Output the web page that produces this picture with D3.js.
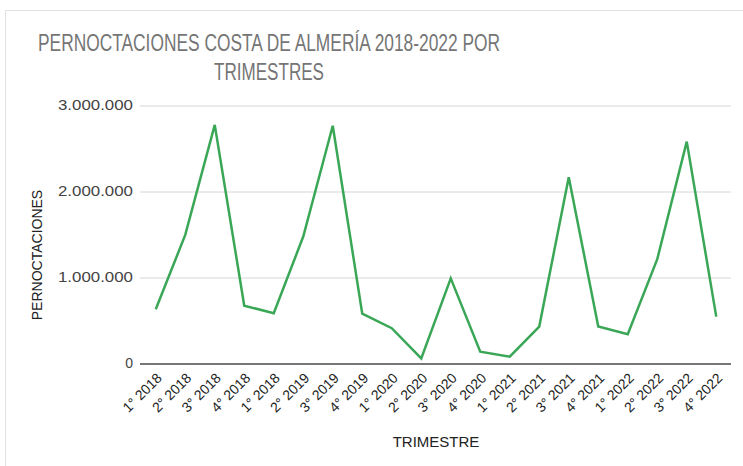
<!DOCTYPE html>
<html>
<head>
<meta charset="utf-8">
<script src="https://cdn.jsdelivr.net/npm/d3@7/dist/d3.min.js"></script>
<style>
  body { margin: 0; background: #fff; }
  text { font-family: "Liberation Sans", Arial, sans-serif; }
</style>
</head>
<body>
<script>
// trimestres (labels as in the original, incl. the repeated "1° 2018")
var quarters = ["1° 2018", "2° 2018", "3° 2018", "4° 2018", "1° 2018", "2° 2019", "3° 2019", "4° 2019",
    "1° 2020", "2° 2020", "3° 2020", "4° 2020", "1° 2021", "2° 2021", "3° 2021", "4° 2021",
    "1° 2022", "2° 2022", "3° 2022", "4° 2022"];
var pernoctaciones = [630000, 1495000, 2775000, 673000, 584000, 1476000, 2764000, 580000,
    410000, 60000, 990000, 137000, 80000, 430000, 2167000, 430000,
    340000, 1213000, 2580000, 545000];
var yTicks = [0, 1000000, 2000000, 3000000];
var titleLines = ["PERNOCTACIONES COSTA DE ALMERÍA 2018-2022 POR", "TRIMESTRES"];

var width = 743, height = 466;
var margin = { top: 105.5, right: 12, bottom: 102.5, left: 141 };

var svg = d3.select("body")
    .append("svg")
    .attr("width", width)
    .attr("height", height);

// chart frame
svg.append("rect")
    .attr("x", 5.5).attr("y", 10.5)
    .attr("width", width + 20).attr("height", height + 20)
    .attr("fill", "#fff")
    .attr("stroke", "#e2e2e2");

var x = d3.scalePoint()
    .domain(quarters.map(function (d, i) { return i; }))
    .range([margin.left, width - margin.right])
    .padding(0.5);

var y = d3.scaleLinear()
    .domain([0, 3000000])
    .range([height - margin.bottom, margin.top]);

var fmt = function (v) { return d3.format(",")(v).replace(/,/g, "."); };

// title
svg.append("g").selectAll("text")
    .data(titleLines)
    .enter().append("text")
    .attr("x", 269)
    .attr("y", function (d, i) { return 51 + i * 29; })
    .attr("text-anchor", "middle")
    .attr("textLength", function (d, i) { return i == 0 ? 462 : 110; })
    .attr("lengthAdjust", "spacingAndGlyphs")
    .style("font-size", "23px")
    .style("fill", "#757575")
    .text(function (d) { return d; });

// grid + y labels
var yAxis = svg.append("g")
    .attr("class", "y-axis")
    .attr("transform", "translate(" + margin.left + ",0)")
    .call(d3.axisLeft(y)
        .tickValues(yTicks)
        .tickSize(-(width - margin.left - margin.right))
        .tickPadding(8)
        .tickFormat(fmt));
yAxis.select(".domain").remove();
yAxis.selectAll(".tick line")
    .attr("stroke", function (d) { return d == 0 ? "#777" : "#d6d6d6"; })
    .attr("stroke-width", function (d) { return d == 0 ? 2 : 1; })
    .attr("x1", -1);
yAxis.selectAll(".tick text")
    .attr("textLength", function (d) { return d == 0 ? null : 75; })
    .attr("lengthAdjust", "spacingAndGlyphs")
    .style("font-size", "14px")
    .style("fill", "#444");

// x labels
svg.append("g")
    .attr("class", "x-labels")
    .selectAll("text")
    .data(quarters)
    .enter().append("text")
    .attr("transform", function (d, i) {
        return "translate(" + (x(i) + 7) + ",379) rotate(-45)";
    })
    .attr("text-anchor", "end")
    .style("font-size", "14px")
    .style("fill", "#222")
    .text(function (d) { return d; });

// line
var line = d3.line()
    .x(function (d, i) { return x(i); })
    .y(function (d) { return y(d); });

svg.append("path")
    .datum(pernoctaciones)
    .attr("d", line)
    .attr("fill", "none")
    .attr("stroke", "#3aa757")
    .attr("stroke-width", 2.5)
    .attr("stroke-linejoin", "miter");

// axis titles
svg.append("text")
    .attr("x", (margin.left + width - margin.right) / 2)
    .attr("y", 447)
    .attr("text-anchor", "middle")
    .style("font-size", "15px")
    .style("fill", "#222")
    .text("TRIMESTRE");

svg.append("text")
    .attr("transform", "translate(42,255) rotate(-90)")
    .attr("text-anchor", "middle")
    .style("font-size", "14px")
    .style("fill", "#222")
    .text("PERNOCTACIONES");
</script>
</body>
</html>
